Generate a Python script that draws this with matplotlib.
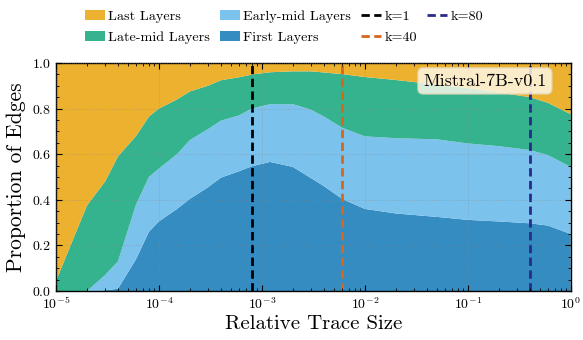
import numpy as np
import matplotlib
matplotlib.use('Agg')
import matplotlib.pyplot as plt
from matplotlib.ticker import LogLocator, MultipleLocator, NullFormatter

plt.rcParams['font.family'] = ['cmr10', 'DejaVu Serif']
plt.rcParams['mathtext.fontset'] = 'cm'
plt.rcParams['axes.formatter.use_mathtext'] = True
plt.rcParams['axes.unicode_minus'] = False

# relative trace size (x) and proportion of edges per layer group
trace_size = [1e-5, 2e-5, 3e-5, 4e-5, 6e-5, 8e-5, 1e-4, 1.5e-4, 2e-4, 3e-4,
              4e-4, 6e-4, 8e-4, 1.2e-3, 2e-3, 3e-3, 4e-3, 6e-3, 1e-2, 2e-2,
              5e-2, 1e-1, 2e-1, 4e-1, 6e-1, 1.0]
first_layers = [0.0, 0.0, 0.003, 0.01, 0.14, 0.26, 0.305, 0.36, 0.404, 0.455,
                0.497, 0.525, 0.547, 0.566, 0.544, 0.495, 0.46, 0.404, 0.36, 0.34,
                0.325, 0.312, 0.305, 0.297, 0.287, 0.25]
early_mid = [0.0, 0.0, 0.067, 0.12, 0.24, 0.24, 0.232, 0.24, 0.258, 0.255,
             0.25, 0.245, 0.253, 0.253, 0.275, 0.30, 0.305, 0.312, 0.318, 0.33,
             0.34, 0.335, 0.33, 0.321, 0.309, 0.294]
late_mid = [0.044, 0.375, 0.41, 0.46, 0.30, 0.265, 0.263, 0.24, 0.213, 0.19,
            0.177, 0.167, 0.149, 0.14, 0.144, 0.168, 0.193, 0.235, 0.26, 0.255,
            0.24, 0.243, 0.235, 0.232, 0.229, 0.231]
last_layers = [0.956, 0.625, 0.52, 0.41, 0.32, 0.235, 0.20, 0.16, 0.125, 0.10,
               0.076, 0.063, 0.051, 0.041, 0.037, 0.037, 0.042, 0.049, 0.062, 0.075,
               0.095, 0.11, 0.13, 0.15, 0.175, 0.225]

k_names = ['k=1', 'k=40', 'k=80']
k_sizes = [8e-4, 6e-3, 0.4]
k_colors = ['black', '#d9661a', '#2b2a8c']

fig = plt.figure(figsize=(5.83, 3.4), dpi=100)
ax = fig.add_axes([0.096, 0.144, 0.883, 0.671])

polys = ax.stackplot(trace_size, first_layers, early_mid, late_mid, last_layers,
                     colors=['#348cc1', '#7bc2ec', '#35b28e', '#ecb12f'],
                     labels=['First Layers', 'Early-mid Layers', 'Late-mid Layers', 'Last Layers'],
                     linewidth=0)

vlines = []
for name, k, c in zip(k_names, k_sizes, k_colors):
    ln = ax.axvline(k, color=c, ls=(0, (3, 1.6)), lw=2, label=name)
    vlines.append(ln)

ax.set_xscale('log')
ax.set_xlim(1e-5, 1)
ax.set_ylim(0, 1)
ax.yaxis.set_major_locator(MultipleLocator(0.2))
ax.yaxis.set_minor_locator(MultipleLocator(0.05))
ax.xaxis.set_minor_locator(LogLocator(base=10, subs=np.arange(2, 10)))
ax.xaxis.set_minor_formatter(NullFormatter())
ax.tick_params(which='both', direction='in', top=True, right=True, labelsize=10)
ax.tick_params(which='major', length=4)
ax.tick_params(which='minor', length=2)
ax.grid(True, which='major', ls=':', lw=0.6, color='#888888', alpha=0.5)
ax.set_axisbelow(False)
for s in ax.spines.values():
    s.set_linewidth(1.0)

ax.set_xlabel('Relative Trace Size', fontsize=15, labelpad=2)
ax.set_ylabel('Proportion of Edges', fontsize=15.5, labelpad=4)

ax.text(0.953, 0.921, 'Mistral-7B-v0.1', transform=ax.transAxes, fontsize=13,
        ha='right', va='center',
        bbox=dict(boxstyle='round,pad=0.3', fc='#fffaec', ec='#e2d6b6', alpha=0.82))

handles = [polys[3], polys[2], polys[1], polys[0]] + vlines
labels = [h.get_label() for h in handles]
fig.legend(handles, labels, loc='upper center', bbox_to_anchor=(0.487, 1.008), ncol=4,
           frameon=False, fontsize=10.2, handlelength=1.4, columnspacing=0.7,
           handletextpad=0.25, labelspacing=0.6)

fig.savefig('out.png', dpi=100)
